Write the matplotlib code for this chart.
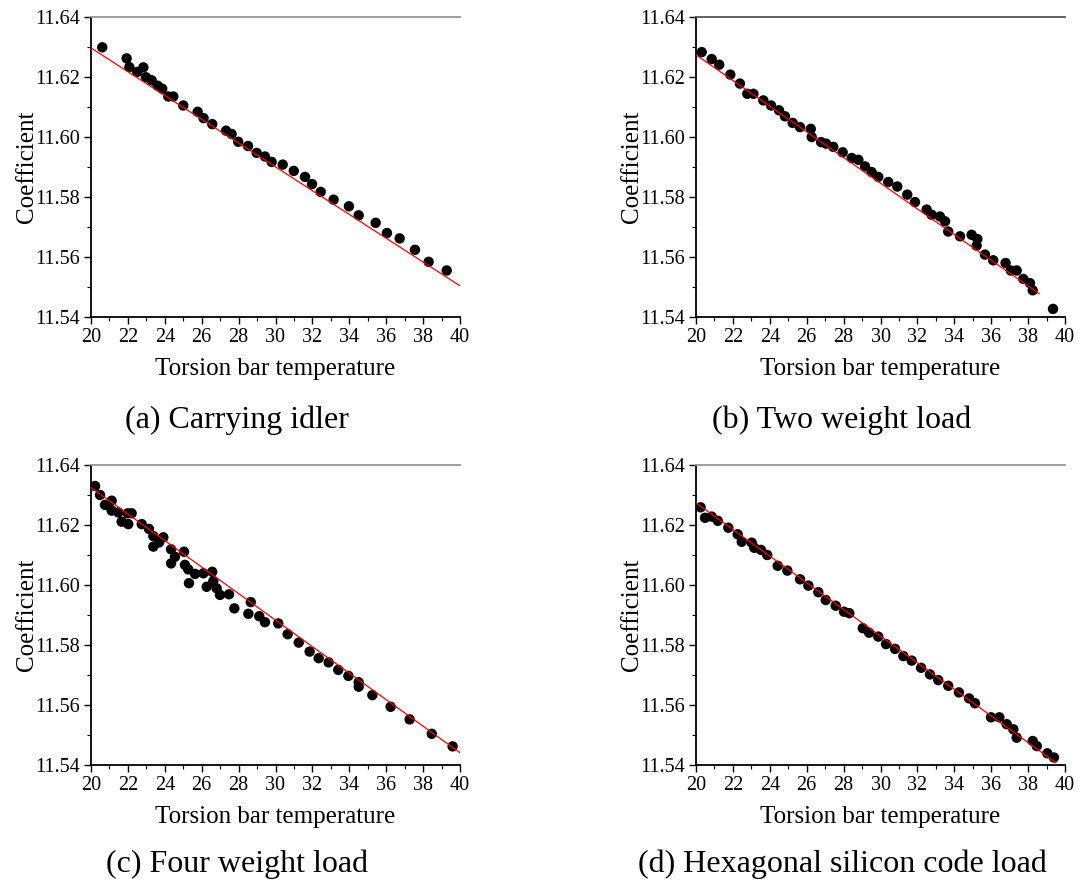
import matplotlib
matplotlib.use("Agg")
import matplotlib.pyplot as plt
from matplotlib.ticker import MultipleLocator, FormatStrFormatter

plt.rcParams['font.family'] = ['Liberation Serif', 'DejaVu Serif']
plt.rcParams['mathtext.fontset'] = 'stix'

# ---------------- data ----------------
# (a) Carrying idler
a_temp = [20.61, 21.93, 22.08, 22.51, 22.84, 22.98, 23.29, 23.61, 23.86, 24.19, 24.46,
          25.00, 25.78, 26.10, 26.57, 27.32, 27.62, 27.98, 28.51, 28.98, 29.43, 29.79,
          30.39, 30.99, 31.60, 31.98, 32.45, 33.15, 33.98, 34.51, 35.43, 36.04, 36.73,
          37.56, 38.30, 39.28]
a_coef = [11.6299, 11.6262, 11.6233, 11.6217, 11.6232, 11.6199, 11.6189, 11.6171, 11.6161,
          11.6135, 11.6135, 11.6105, 11.6084, 11.6063, 11.6043, 11.6021, 11.6010, 11.5984,
          11.5970, 11.5947, 11.5935, 11.5917, 11.5908, 11.5887, 11.5867, 11.5843, 11.5817,
          11.5791, 11.5769, 11.5739, 11.5714, 11.5680, 11.5662, 11.5624, 11.5584, 11.5555]
a_fit_x = [20.0, 40.0]
a_fit_y = [11.6297, 11.5504]

# (b) Two weight load
b_temp = [20.31, 20.85, 21.26, 21.86, 22.38, 22.78, 23.11, 23.65, 24.07, 24.50, 24.82,
          25.24, 25.64, 26.22, 26.27, 26.78, 27.05, 27.44, 27.95, 28.44, 28.80, 29.16,
          29.52, 29.88, 30.42, 30.91, 31.45, 31.87, 32.50, 32.77, 33.22, 33.50, 33.67,
          34.31, 34.94, 35.25, 35.21, 35.66, 36.11, 36.78, 37.06, 37.38, 37.74, 38.10,
          38.25, 39.35]
b_coef = [11.6283, 11.6260, 11.6241, 11.6208, 11.6178, 11.6144, 11.6144, 11.6122, 11.6105,
          11.6089, 11.6069, 11.6047, 11.6033, 11.6027, 11.6000, 11.5983, 11.5978, 11.5967,
          11.5949, 11.5930, 11.5924, 11.5902, 11.5883, 11.5867, 11.5850, 11.5835, 11.5808,
          11.5783, 11.5758, 11.5741, 11.5735, 11.5719, 11.5685, 11.5669, 11.5674, 11.5660,
          11.5638, 11.5608, 11.5589, 11.5580, 11.5555, 11.5555, 11.5527, 11.5513, 11.5489,
          11.5427]
b_fit_x = [20.0, 38.6]
b_fit_y = [11.6274, 11.5478]

# (c) Four weight load
c_temp = [20.22, 20.49, 20.76, 21.12, 21.12, 21.48, 21.66, 21.99, 22.02, 22.20, 22.75,
          23.14, 23.38, 23.38, 23.69, 23.92, 24.34, 24.34, 24.55, 25.04, 25.09, 25.27,
          25.31, 25.64, 26.09, 26.57, 26.63, 26.27, 26.81, 26.99, 27.48, 27.77, 28.66,
          28.53, 29.12, 29.43, 30.15, 30.66, 31.26, 31.85, 32.34, 32.88, 33.40, 33.95,
          34.51, 34.51, 35.25, 36.24, 37.27, 38.47, 39.60]
c_coef = [11.6330, 11.6300, 11.6267, 11.6281, 11.6248, 11.6242, 11.6211, 11.6239, 11.6203,
          11.6239, 11.6203, 11.6187, 11.6163, 11.6128, 11.6142, 11.6159, 11.6119, 11.6072,
          11.6094, 11.6111, 11.6067, 11.6052, 11.6006, 11.6037, 11.6039, 11.6044, 11.6013,
          11.5994, 11.5989, 11.5967, 11.5969, 11.5922, 11.5943, 11.5904, 11.5896, 11.5876,
          11.5872, 11.5836, 11.5808, 11.5778, 11.5756, 11.5742, 11.5717, 11.5697, 11.5676,
          11.5661, 11.5633, 11.5594, 11.5552, 11.5504, 11.5462]
c_fit_x = [20.0, 40.0]
c_fit_y = [11.6325, 11.5441]

# (d) Hexagonal silicon code load
d_temp = [20.25, 20.49, 20.85, 21.18, 21.75, 22.26, 22.48, 23.02, 23.16, 23.52, 23.86,
          24.43, 24.95, 25.64, 26.09, 26.63, 27.03, 27.57, 28.02, 28.31, 29.04, 29.38,
          29.88, 30.30, 30.79, 31.24, 31.69, 32.20, 32.68, 33.13, 33.67, 34.25, 34.80,
          35.12, 35.99, 36.44, 36.84, 37.20, 37.38, 38.25, 38.47, 39.04, 39.40]
d_coef = [11.6259, 11.6224, 11.6228, 11.6214, 11.6191, 11.6169, 11.6144, 11.6141, 11.6124,
          11.6117, 11.6100, 11.6064, 11.6048, 11.6019, 11.5998, 11.5976, 11.5950, 11.5931,
          11.5911, 11.5906, 11.5856, 11.5841, 11.5828, 11.5803, 11.5787, 11.5763, 11.5748,
          11.5724, 11.5702, 11.5683, 11.5664, 11.5642, 11.5622, 11.5606, 11.5559, 11.5559,
          11.5536, 11.5519, 11.5491, 11.5480, 11.5463, 11.5439, 11.5425]
d_fit_x = [20.0, 39.5]
d_fit_y = [11.6274, 11.5408]

captions = ["(a) Carrying idler", "(b) Two weight load",
            "(c) Four weight load", "(d) Hexagonal silicon code load"]
x_label = "Torsion bar temperature"
y_label = "Coefficient"

# ---------------- figure ----------------
W, H = 1079, 884
fig = plt.figure(figsize=(W / 100, H / 100), dpi=100)

def px_axes(left, top, right, bottom):
    return [left / W, 1 - bottom / H, (right - left) / W, (bottom - top) / H]

boxes = [px_axes(91, 17, 460, 317), px_axes(696, 17, 1065, 317),
         px_axes(91, 465, 460, 765), px_axes(696, 465, 1065, 765)]
caption_pos = [(237, 420), (842, 420), (237, 864), (842, 864)]

series = [(a_temp, a_coef, a_fit_x, a_fit_y), (b_temp, b_coef, b_fit_x, b_fit_y),
          (c_temp, c_coef, c_fit_x, c_fit_y), (d_temp, d_coef, d_fit_x, d_fit_y)]

for i, (box, (tx, cy, fx, fy)) in enumerate(zip(boxes, series)):
    ax = fig.add_axes(box)
    ax.plot(fx, fy, color='red', lw=0.9, zorder=3)
    ax.scatter(tx, cy, s=56, color='black', edgecolors='none', zorder=2)
    ax.set_xlim(20, 40)
    ax.set_ylim(11.54, 11.64)
    ax.xaxis.set_major_locator(MultipleLocator(2))
    ax.xaxis.set_minor_locator(MultipleLocator(1))
    ax.yaxis.set_major_locator(MultipleLocator(0.02))
    ax.yaxis.set_minor_locator(MultipleLocator(0.01))
    ax.yaxis.set_major_formatter(FormatStrFormatter('%.2f'))
    ax.tick_params(which='major', direction='out', length=5, width=1.0,
                   labelsize=14.5, pad=3)
    ax.tick_params(which='minor', direction='out', length=3, width=0.8)
    for s in ['left', 'bottom']:
        ax.spines[s].set_linewidth(1.3)
        ax.spines[s].set_color('black')
    ax.spines['top'].set_color('#555555' if i == 1 else '#999999')
    ax.spines['top'].set_linewidth(1.3)
    ax.spines['right'].set_visible(False)
    ax.set_xlabel(x_label, fontsize=18, labelpad=8)
    ax.set_ylabel(y_label, fontsize=18, labelpad=-2)
    cx, cyy = caption_pos[i]
    fig.text(cx / W, 1 - cyy / H, captions[i], fontsize=23, ha='center', va='center')

fig.savefig("out.png", dpi=100)
